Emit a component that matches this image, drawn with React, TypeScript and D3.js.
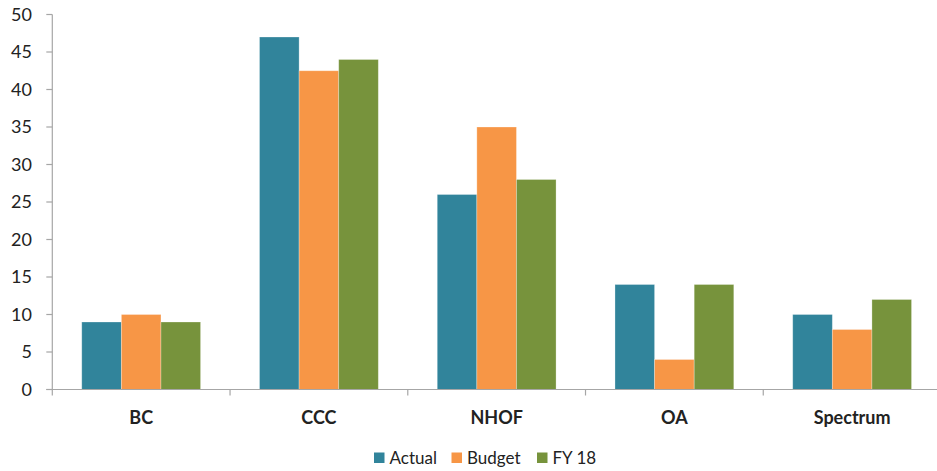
import React from "react";
import * as d3 from "d3";

const categories = ["BC", "CCC", "NHOF", "OA", "Spectrum"];
const seriesNames = ["Actual", "Budget", "FY 18"];
const actual = [9, 47, 26, 14, 10];
const budget = [10, 42.5, 35, 4, 8];
const fy18 = [9, 44, 28, 14, 12];
const yTicks = [0, 5, 10, 15, 20, 25, 30, 35, 40, 45, 50];
const colors = ["#31849B", "#F79646", "#77933C"];

const W = 937;
const H = 471;
const FONT = "Lato, 'Open Sans', sans-serif";

export default function App() {
  const series = [actual, budget, fy18];
  const x = d3.scaleBand<string>().domain(categories).range([52.3, 941]).paddingInner(0).paddingOuter(0);
  const inner = d3.scaleBand<string>().domain(seriesNames).range([0, x.bandwidth()]).paddingOuter(0.744).paddingInner(0);
  const y = d3.scaleLinear().domain([0, 50]).range([389.5, 14.5]);
  const axisColor = "#A6A6A6";
  const x0 = 52.3;
  const legendX = [374, 451.5, 537];

  return (
    <svg width={W} height={H} style={{ position: "absolute", left: 0, top: 0, background: "#fff" }}>
      {categories.map((c, ci) =>
        seriesNames.map((s, si) => {
          const v = series[si][ci];
          const bx = (x(c) as number) + (inner(s) as number);
          return (
            <rect
              key={c + s}
              x={bx}
              y={y(v)}
              width={inner.bandwidth()}
              height={y(0) - y(v)}
              fill={colors[si]}
              stroke="#ffffff"
              strokeOpacity={0.35}
              strokeWidth={0.8}
            />
          );
        })
      )}
      <line x1={x0} x2={x0} y1={y(50)} y2={y(0) + 6} stroke={axisColor} strokeWidth={1.2} />
      {yTicks.map((t) => (
        <g key={t}>
          <line x1={x0 - 6} x2={x0} y1={y(t)} y2={y(t)} stroke={axisColor} strokeWidth={1.2} />
          <text x={32} y={y(t)} dy="0.36em" textAnchor="end" fontFamily={FONT} fontSize={18} fill="#222">
            {t}
          </text>
        </g>
      ))}
      <line x1={x0 - 6} x2={W} y1={y(0)} y2={y(0)} stroke={axisColor} strokeWidth={1.2} />
      {categories.map((c, ci) => (
        <g key={c}>
          {ci > 0 && (
            <line x1={x(c) as number} x2={x(c) as number} y1={y(0)} y2={y(0) + 6} stroke={axisColor} strokeWidth={1.2} />
          )}
          <text
            x={(x(c) as number) + x.bandwidth() / 2}
            y={423.5}
            textAnchor="middle"
            fontFamily={FONT}
            fontWeight="bold"
            fontSize={18}
            fill="#222"
          >
            {c}
          </text>
        </g>
      ))}
      {seriesNames.map((s, si) => (
        <g key={s}>
          <rect x={legendX[si]} y={452.5} width={10.5} height={10.5} fill={colors[si]} />
          <text x={legendX[si] + 15.5} y={464} fontFamily={FONT} fontSize={17} fill="#222">
            {s}
          </text>
        </g>
      ))}
    </svg>
  );
}
